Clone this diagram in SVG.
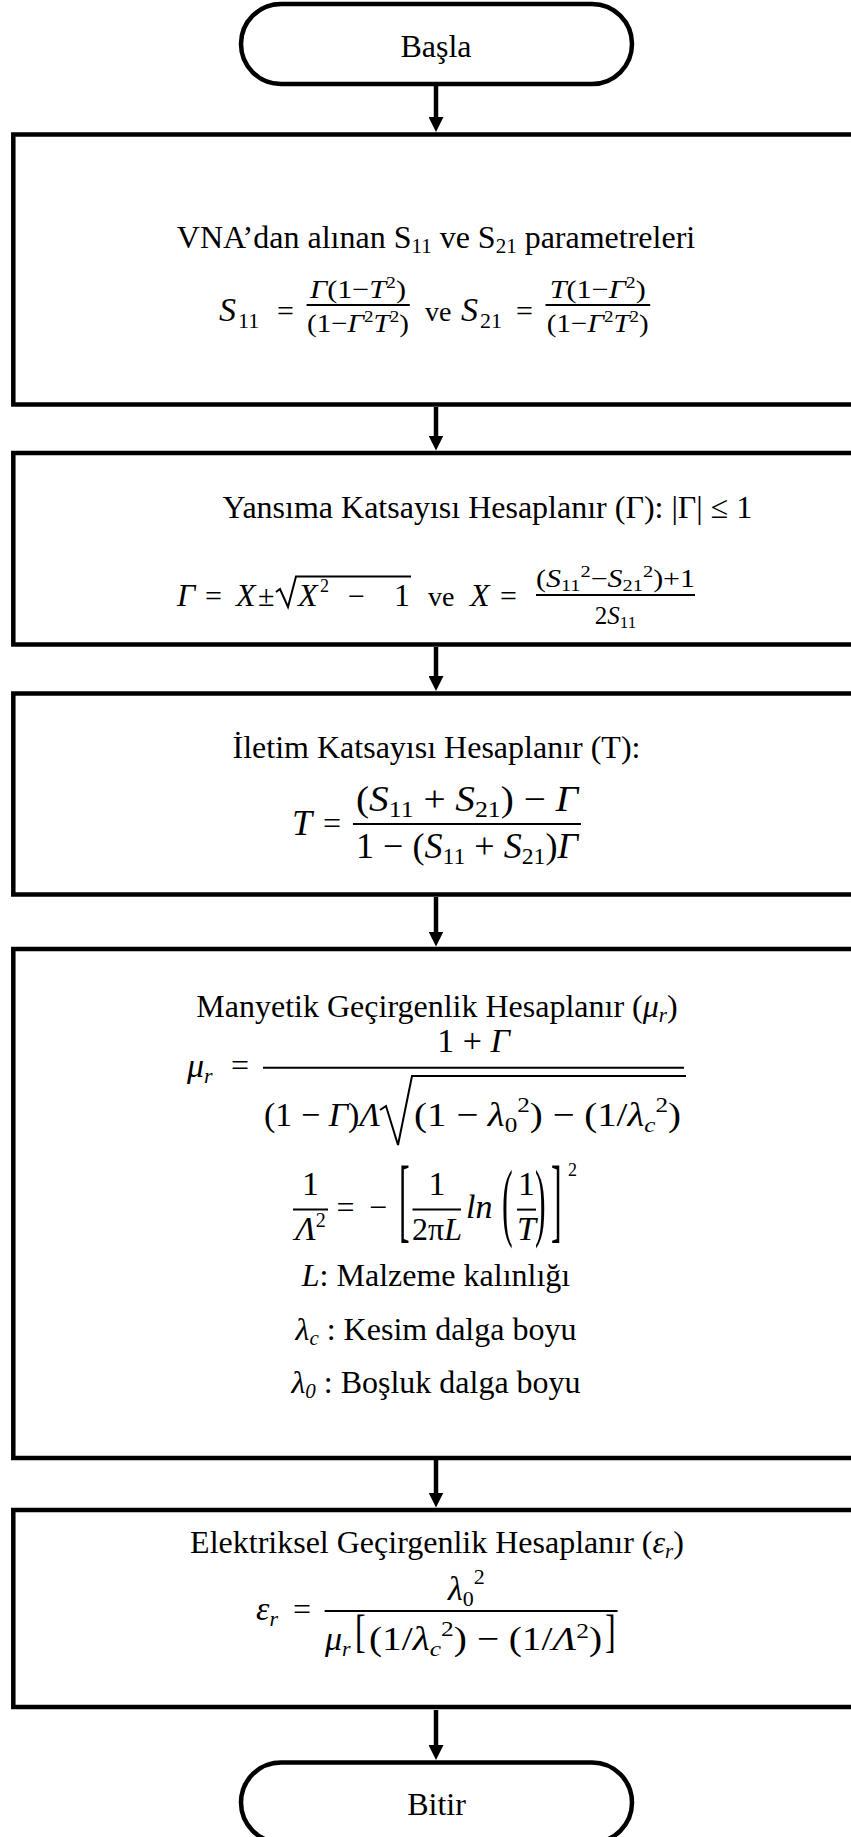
<svg xmlns="http://www.w3.org/2000/svg" width="851" height="1837" viewBox="0 0 851 1837" font-size="32">
<defs>
<style>
.t{font-family:"Liberation Serif","Times New Roman",serif;fill:#000}
.i{font-style:italic}
.box{fill:#fff;stroke:#000;stroke-width:4.5}
.cn{stroke:#000;stroke-width:4.5;fill:none}
.fl{stroke:#000;stroke-width:2;fill:none}
</style>
<marker id="ah" markerUnits="userSpaceOnUse" markerWidth="15" markerHeight="15" refX="5" refY="7.5" orient="auto">
<path d="M0,0 L15,7.5 L0,15 Z" fill="#000"/>
</marker>
</defs>
<rect width="851" height="1837" fill="#fff"/>
<g id="connectors">
<line class="cn" x1="436" y1="86" x2="436" y2="122" marker-end="url(#ah)"/>
<line class="cn" x1="436" y1="407" x2="436" y2="440.5" marker-end="url(#ah)"/>
<line class="cn" x1="436" y1="647" x2="436" y2="681" marker-end="url(#ah)"/>
<line class="cn" x1="436" y1="897" x2="436" y2="936.5" marker-end="url(#ah)"/>
<line class="cn" x1="436" y1="1460" x2="436" y2="1497.5" marker-end="url(#ah)"/>
<line class="cn" x1="436" y1="1710" x2="436" y2="1750" marker-end="url(#ah)"/>
</g>
<g id="start">
<rect class="box" x="241" y="4" width="391" height="80" rx="40"/>
<text class="t" x="436" y="57" text-anchor="middle">Başla</text>
</g>
<g id="n1">
<rect class="box" x="13.3" y="134.5" width="870" height="270"/>
<text class="t" x="436" y="248" text-anchor="middle">VNA’dan alınan S<tspan font-size="21" dy="5">11</tspan><tspan dy="-5"> ve S</tspan><tspan font-size="21" dy="5">21</tspan><tspan dy="-5"> parametreleri</tspan></text>
<text class="t i" x="219" y="321" font-size="34">S</text>
<text class="t" x="238" y="328" font-size="22">11</text>
<text class="t" x="277" y="321" font-size="30">=</text>
<line class="fl" x1="306.6" y1="305" x2="409.8" y2="305"/>
<text class="t" x="358" y="298" font-size="26" text-anchor="middle" textLength="96" lengthAdjust="spacingAndGlyphs"><tspan class="i">Γ</tspan>(1−<tspan class="i">T</tspan><tspan font-size="17" dy="-10">2</tspan><tspan dy="10">)</tspan></text>
<text class="t" x="358" y="332" font-size="26" text-anchor="middle" textLength="102" lengthAdjust="spacingAndGlyphs">(1−<tspan class="i">Γ</tspan><tspan font-size="17" dy="-10">2</tspan><tspan class="i" dy="10">T</tspan><tspan font-size="17" dy="-10">2</tspan><tspan dy="10">)</tspan></text>
<text class="t" x="425" y="321" font-size="28">ve</text>
<text class="t i" x="461" y="321" font-size="34">S</text>
<text class="t" x="480" y="328" font-size="22">21</text>
<text class="t" x="516" y="321" font-size="30">=</text>
<line class="fl" x1="545.5" y1="305" x2="650.2" y2="305"/>
<text class="t" x="597.8" y="298" font-size="26" text-anchor="middle" textLength="96" lengthAdjust="spacingAndGlyphs"><tspan class="i">T</tspan>(1−<tspan class="i">Γ</tspan><tspan font-size="17" dy="-10">2</tspan><tspan dy="10">)</tspan></text>
<text class="t" x="597.8" y="332" font-size="26" text-anchor="middle" textLength="102" lengthAdjust="spacingAndGlyphs">(1−<tspan class="i">Γ</tspan><tspan font-size="17" dy="-10">2</tspan><tspan class="i" dy="10">T</tspan><tspan font-size="17" dy="-10">2</tspan><tspan dy="10">)</tspan></text>
</g>
<g id="n2">
<rect class="box" x="13.3" y="453" width="870" height="191.5"/>
<text class="t" x="222.5" y="518">Yansıma Katsayısı Hesaplanır (Γ): |Γ| ≤ 1</text>
<text class="t i" x="177" y="606" font-size="32">Γ</text>
<text class="t" x="205" y="606" font-size="30">=</text>
<text class="t i" x="236" y="606" font-size="32">X</text>
<text class="t" x="258" y="606" font-size="30">±</text>
<polyline class="fl" points="276,592 280,589 288,607 296,576.5 411,576.5"/>
<text class="t i" x="298" y="606" font-size="32">X</text>
<text class="t" x="320" y="592" font-size="18">2</text>
<text class="t" x="348" y="606" font-size="30">−</text>
<text class="t" x="394" y="606" font-size="32">1</text>
<text class="t" x="428" y="606" font-size="28">ve</text>
<text class="t i" x="470" y="606" font-size="32">X</text>
<text class="t" x="500" y="606" font-size="30">=</text>
<line class="fl" x1="536" y1="595" x2="695" y2="595"/>
<text class="t" x="615.5" y="587" font-size="25" text-anchor="middle" textLength="159" lengthAdjust="spacingAndGlyphs">(<tspan class="i">S</tspan><tspan font-size="17" dy="4">11</tspan><tspan font-size="17" dy="-14">2</tspan><tspan dy="10">−</tspan><tspan class="i">S</tspan><tspan font-size="17" dy="4">21</tspan><tspan font-size="17" dy="-14">2</tspan><tspan dy="10">)+1</tspan></text>
<text class="t" x="615.5" y="624" font-size="25" text-anchor="middle">2<tspan class="i">S</tspan><tspan font-size="17" dy="4">11</tspan></text>
</g>
<g id="n3">
<rect class="box" x="13.3" y="693.5" width="870" height="201"/>
<text class="t" x="436.5" y="758" text-anchor="middle">İletim Katsayısı Hesaplanır (T):</text>
<text class="t i" x="292" y="835" font-size="36">T</text>
<text class="t" x="323" y="834" font-size="32">=</text>
<line class="fl" x1="353" y1="824" x2="581" y2="824"/>
<text class="t" x="467" y="811" font-size="35" text-anchor="middle" textLength="222" lengthAdjust="spacingAndGlyphs">(<tspan class="i">S</tspan><tspan font-size="23" dy="6">11</tspan><tspan dy="-6"> + </tspan><tspan class="i">S</tspan><tspan font-size="23" dy="6">21</tspan><tspan dy="-6">) − </tspan><tspan class="i">Γ</tspan></text>
<text class="t" x="467" y="858" font-size="35" text-anchor="middle" textLength="222" lengthAdjust="spacingAndGlyphs">1 − (<tspan class="i">S</tspan><tspan font-size="23" dy="6">11</tspan><tspan dy="-6"> + </tspan><tspan class="i">S</tspan><tspan font-size="23" dy="6">21</tspan><tspan dy="-6">)</tspan><tspan class="i">Γ</tspan></text>
</g>
<g id="n4">
<rect class="box" x="13.3" y="949" width="870" height="509"/>
<text class="t" x="437" y="1017" text-anchor="middle">Manyetik Geçirgenlik Hesaplanır (<tspan class="i">μ</tspan><tspan class="i" font-size="21" dy="5">r</tspan><tspan dy="-5">)</tspan></text>
<text class="t i" x="187" y="1077" font-size="34">μ<tspan font-size="22" dy="6">r</tspan></text>
<text class="t" x="231" y="1076" font-size="32">=</text>
<line class="fl" x1="263" y1="1067.7" x2="684" y2="1067.7"/>
<text class="t" x="473.5" y="1052" font-size="34" text-anchor="middle">1 + <tspan class="i">Γ</tspan></text>
<text class="t" x="264" y="1126" font-size="34" textLength="116" lengthAdjust="spacingAndGlyphs">(1 − <tspan class="i">Γ</tspan>)<tspan class="i">Λ</tspan></text>
<polyline class="fl" points="380,1110 386,1106 398,1145 412,1076 686,1076"/>
<text class="t" x="414" y="1126" font-size="34" textLength="267" lengthAdjust="spacingAndGlyphs">(1 − <tspan class="i">λ</tspan><tspan font-size="22" dy="6">0</tspan><tspan font-size="22" dy="-20">2</tspan><tspan dy="14">) − (1/</tspan><tspan class="i">λ</tspan><tspan class="i" font-size="22" dy="6">c</tspan><tspan font-size="22" dy="-20">2</tspan><tspan dy="14">)</tspan></text>
<line class="fl" x1="293" y1="1209.6" x2="328" y2="1209.6"/>
<text class="t" x="310.5" y="1195" text-anchor="middle" font-size="34">1</text>
<text class="t" x="310.5" y="1240" text-anchor="middle" font-size="34"><tspan class="i">Λ</tspan><tspan font-size="20" dy="-13">2</tspan></text>
<text class="t" x="336.5" y="1218" font-size="32">=</text>
<text class="t" x="369" y="1218" font-size="32">−</text>
<text class="t" font-size="32" transform="translate(399,1231.4) scale(1,2.92)">[</text>
<line class="fl" x1="412.5" y1="1209.6" x2="461" y2="1209.6"/>
<text class="t" x="437" y="1195" text-anchor="middle" font-size="34">1</text>
<text class="t" x="437" y="1240" text-anchor="middle" font-size="32">2π<tspan class="i">L</tspan></text>
<text class="t i" x="466" y="1218" font-size="34">ln</text>
<text class="t" font-size="32" transform="translate(502,1230.4) scale(1,2.7)">(</text>
<line class="fl" x1="517" y1="1209.6" x2="536" y2="1209.6"/>
<text class="t" x="526.5" y="1195" text-anchor="middle" font-size="34">1</text>
<text class="t i" x="526.5" y="1240" text-anchor="middle" font-size="34">T</text>
<text class="t" font-size="32" transform="translate(535,1230.4) scale(1,2.7)">)</text>
<text class="t" font-size="32" transform="translate(551,1231.4) scale(1,2.92)">]</text>
<text class="t" x="568" y="1176" font-size="18">2</text>
<text class="t" x="436" y="1286" text-anchor="middle"><tspan class="i">L</tspan>: Malzeme kalınlığı</text>
<text class="t" x="436" y="1340" text-anchor="middle"><tspan class="i">λ</tspan><tspan class="i" font-size="21" dy="5">c</tspan><tspan dy="-5"> : Kesim dalga boyu</tspan></text>
<text class="t" x="436" y="1393" text-anchor="middle"><tspan class="i">λ</tspan><tspan class="i" font-size="21" dy="5">0</tspan><tspan dy="-5"> : Boşluk dalga boyu</tspan></text>
</g>
<g id="n5">
<rect class="box" x="13.3" y="1510" width="870" height="197"/>
<text class="t" x="437" y="1553" text-anchor="middle">Elektriksel Geçirgenlik Hesaplanır (<tspan class="i">ε</tspan><tspan class="i" font-size="21" dy="5">r</tspan><tspan dy="-5">)</tspan></text>
<text class="t i" x="256" y="1620" font-size="34">ε<tspan font-size="22" dy="6">r</tspan></text>
<text class="t" x="293" y="1620" font-size="32">=</text>
<line class="fl" x1="324.6" y1="1611" x2="617.6" y2="1611"/>
<text class="t" x="448" y="1600" font-size="34"><tspan class="i">λ</tspan><tspan font-size="22" dy="6">0</tspan><tspan font-size="22" dy="-22">2</tspan></text>
<text class="t i" x="325" y="1650" font-size="34">μ<tspan font-size="22" dy="6">r</tspan></text>
<text class="t" font-size="32" transform="translate(355,1647) scale(1,1.45)">[</text>
<text class="t" x="369" y="1650" font-size="34" textLength="233" lengthAdjust="spacingAndGlyphs">(1/<tspan class="i">λ</tspan><tspan class="i" font-size="22" dy="6">c</tspan><tspan font-size="22" dy="-20">2</tspan><tspan dy="14">) − (1/</tspan><tspan class="i">Λ</tspan><tspan font-size="22" dy="-12">2</tspan><tspan dy="12">)</tspan></text>
<text class="t" font-size="32" transform="translate(605,1647) scale(1,1.45)">]</text>
</g>
<g id="end">
<rect class="box" x="241" y="1762.5" width="391" height="80" rx="40"/>
<text class="t" x="436.5" y="1815" text-anchor="middle">Bitir</text>
</g>
</svg>
